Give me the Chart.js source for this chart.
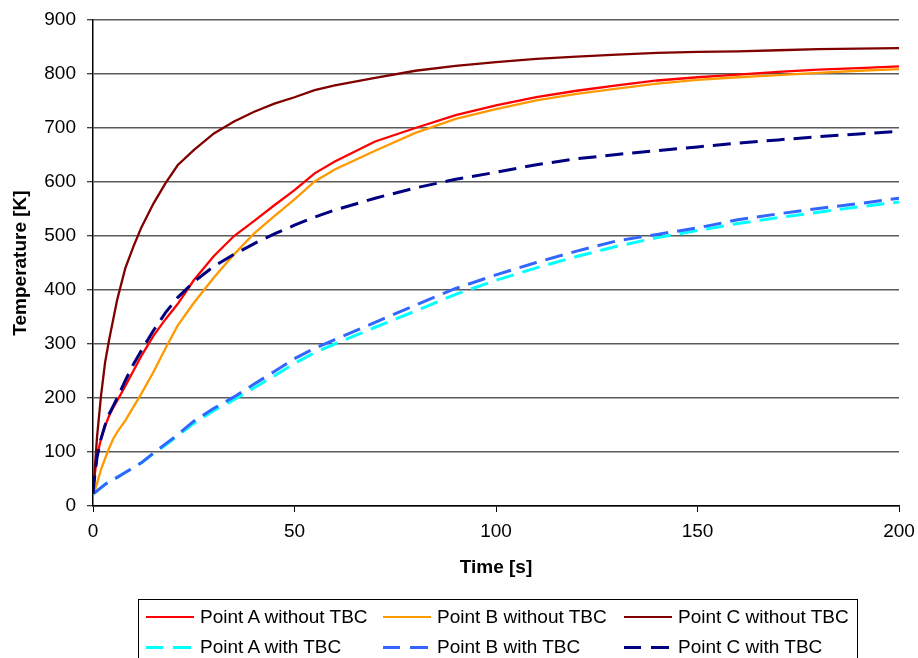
<!DOCTYPE html>
<html>
<head>
<meta charset="utf-8">
<script src="https://cdn.jsdelivr.net/npm/chart.js@4/dist/chart.umd.min.js"></script>
<style>
  html, body { margin: 0; padding: 0; background: #fff; overflow: hidden; }
  #wrap { position: relative; width: 918px; height: 658px; overflow: hidden; }
  #legend { position: absolute; left: 138px; top: 599px; width: 720px; height: 80px;
            border: 1px solid #000; box-sizing: border-box; }
  .item { position: absolute; height: 22px; font: 19px "Liberation Sans", Arial, sans-serif;
          line-height: 22px; color: #000; white-space: nowrap; }
  .sample { position: absolute; left: 0; top: 10px; width: 48px; height: 0; }
  .item span { position: absolute; left: 54px; top: 0; }
</style>
</head>
<body>
<div id="wrap">
  <canvas id="grafico" width="918" height="658"></canvas>
  <div id="legend"></div>
</div>
<script>
const tempos = [0, 0.5, 1, 2, 3, 4, 5, 6, 8, 10, 12, 15, 18, 21, 25, 30, 35, 40, 45, 50, 55, 60,
                70, 80, 90, 100, 110, 120, 130, 140, 150, 160, 170, 180, 190, 200];

const pontoA_sem = [23, 62, 92, 125, 148, 167, 182, 195, 222, 250, 278, 315, 346, 374, 418, 463, 500, 528, 557, 585, 616, 638,
                    675, 700, 724, 742, 757, 769, 779, 788, 794, 799, 804, 808, 811, 814];
const pontoB_sem = [23, 30, 42, 68, 88, 107, 124, 137, 158, 183, 208, 248, 292, 334, 376, 423, 466, 505, 537, 568, 601, 623,
                    658, 691, 717, 735, 751, 763, 773, 782, 789, 794, 798, 802, 806, 809];
const pontoC_sem = [23, 75, 128, 205, 266, 308, 345, 382, 440, 480, 516, 560, 598, 631, 659, 690, 712, 730, 745, 757, 770, 779,
                    793, 806, 815, 822, 828, 832, 836, 839, 841, 842, 844, 846, 847, 848];
const pontoA_com = [23, 25, 28, 34, 40, 45, 49, 53, 62, 71, 80, 97, 113, 130, 153, 177, 197, 219, 241, 264, 284, 300,
                    331, 361, 392, 418, 441, 462, 481, 497, 510, 523, 534, 544, 554, 563];
const pontoB_com = [23, 25, 28, 34, 40, 45, 49, 53, 62, 71, 80, 98, 115, 132, 157, 181, 202, 226, 249, 273, 292, 308,
                    340, 372, 403, 428, 451, 472, 491, 503, 515, 530, 541, 551, 560, 570];
const pontoC_com = [23, 60, 90, 125, 150, 170, 185, 200, 232, 262, 288, 325, 358, 386, 415, 444, 466, 486, 504, 520, 535, 548,
                    570, 589, 605, 618, 632, 643, 651, 658, 665, 672, 678, 684, 689, 694];

const nomes = ['Point A without TBC', 'Point B without TBC', 'Point C without TBC',
               'Point A with TBC', 'Point B with TBC', 'Point C with TBC'];
const cores = ['#FF0000', '#FF9900', '#800000', '#00FFFF', '#3366FF', '#000080'];
const series = [pontoA_sem, pontoB_sem, pontoC_sem, pontoA_com, pontoB_com, pontoC_com];

const fonte = "'Liberation Sans', Arial, sans-serif";

const datasets = series.map((vals, i) => {
    const tracejado = i >= 3;
    return {
        label: nomes[i],
        data: vals.map((v, k) => ({ x: tempos[k], y: v })),
        borderColor: cores[i],
        backgroundColor: cores[i],
        borderWidth: tracejado ? 3 : 2.3,
        borderDash: tracejado ? [18, 9] : [],
        pointRadius: 0,
        tension: 0,
        order: 6 - i
    };
});

const ctx = document.getElementById('grafico');

new Chart(ctx, {
    type: 'line',
    data: { datasets: datasets },
    options: {
        responsive: false,
        animation: false,
        layout: { padding: { top: 20, right: 19, bottom: 75, left: 0 } },
        scales: {
            x: {
                type: 'linear',
                min: 0,
                max: 200,
                afterFit: (s) => { s.height = 77; s.paddingLeft = 0; s.paddingRight = 0; },
                ticks: {
                    stepSize: 50,
                    color: '#000',
                    padding: 8,
                    maxRotation: 0,
                    font: { family: fonte, size: 19 }
                },
                grid: {
                    drawOnChartArea: false,
                    drawTicks: true,
                    tickLength: 6,
                    tickColor: '#000',
                    tickWidth: 1
                },
                border: { color: '#000', width: 1.5 },
                title: {
                    display: true,
                    text: 'Time [s]',
                    color: '#000',
                    padding: { top: 4, bottom: 4 },
                    font: { family: fonte, size: 19, weight: 'bold' }
                }
            },
            y: {
                min: 0,
                max: 900,
                afterFit: (s) => { s.width = 93; s.paddingTop = 0; s.paddingBottom = 0; },
                ticks: {
                    stepSize: 100,
                    color: '#000',
                    padding: 11,
                    font: { family: fonte, size: 19 }
                },
                grid: {
                    color: '#5a5a5a',
                    lineWidth: 1.5,
                    tickLength: 6,
                    tickColor: '#000',
                    tickWidth: 1
                },
                border: { color: '#000', width: 1.5 },
                title: {
                    display: true,
                    text: 'Temperature [K]',
                    color: '#000',
                    padding: { top: 9, bottom: 4 },
                    font: { family: fonte, size: 19, weight: 'bold' }
                }
            }
        },
        plugins: {
            legend: { display: false },
            tooltip: { enabled: false }
        }
    }
});

// legenda em 2 linhas x 3 colunas, como no original
const legenda = document.getElementById('legend');
const colunasX = [146, 383, 624];
nomes.forEach((nome, i) => {
    const linha = i < 3 ? 0 : 1;
    const coluna = i % 3;
    const item = document.createElement('div');
    item.className = 'item';
    item.style.left = (colunasX[coluna] - 139) + 'px';
    item.style.top = (617 - 600 - 11 + linha * 30) + 'px';
    const amostra = document.createElement('div');
    amostra.className = 'sample';
    if (i < 3) {
        amostra.style.borderTop = '2px solid ' + cores[i];
        amostra.style.top = '10px';
    } else {
        amostra.style.height = '3px';
        amostra.style.top = '9.5px';
        amostra.style.width = '45px';
        amostra.style.background = 'linear-gradient(to right, ' + cores[i] + ' 0 17px, transparent 17px 27px, ' + cores[i] + ' 27px 45px)';
    }
    const texto = document.createElement('span');
    texto.textContent = nome;
    item.appendChild(amostra);
    item.appendChild(texto);
    legenda.appendChild(item);
});
</script>
</body>
</html>
